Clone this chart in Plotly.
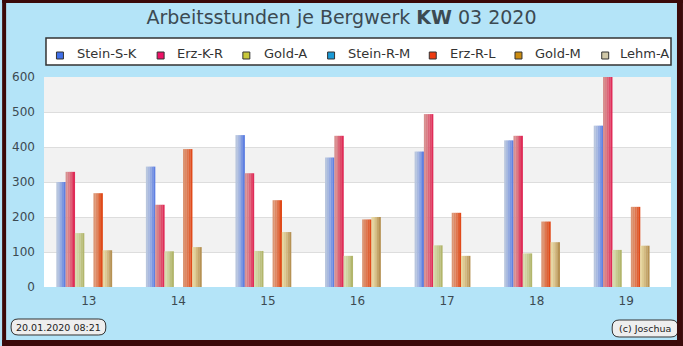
import plotly.graph_objects as go

# ---------------- data ----------------
categories = ["13", "14", "15", "16", "17", "18", "19"]
series_names = ["Stein-S-K", "Erz-K-R", "Gold-A", "Stein-R-M", "Erz-R-L", "Gold-M", "Lehm-A"]
stein_s_k = [300, 344, 434, 370, 387, 419, 461]
erz_k_r = [329, 235, 325, 432, 494, 432, 600]
gold_a = [154, 102, 103, 89, 119, 96, 106]
stein_r_m = [0, 0, 0, 0, 0, 0, 0]
erz_r_l = [268, 394, 248, 193, 212, 187, 229]
gold_m = [105, 114, 157, 200, 89, 128, 118]
lehm_a = [0, 0, 0, 0, 0, 0, 0]
series_values = [stein_s_k, erz_k_r, gold_a, stein_r_m, erz_r_l, gold_m, lehm_a]
y_ticks = [0, 100, 200, 300, 400, 500, 600]

title_text = "Arbeitsstunden je Bergwerk <b>KW</b> 03 2020"
stamp_text = "20.01.2020 08:21"
copyright_text = "(c) Joschua"

# ---------------- styles ----------------
legend_colors = ["#3f6fe8", "#ee1166", "#c8c83a", "#1a9ad6", "#ee3a10", "#cc8c10", "#d0c8a8"]
bar_light = ["#b8c6de", "#d89090", "#d6daac", "#a8d0e8", "#dc9674", "#e6d6a0", "#e2dece"]
bar_dark = ["#5f80e2", "#e02c58", "#b2b66c", "#2898d8", "#e04a1a", "#b69254", "#c0b898"]

W_PX, H_PX = 683, 346
ML, MR, MT, MB = 42, 12, 77, 59
PW = W_PX - ML - MR
PH = H_PX - MT - MB


def px(x):
    return (x - ML) / PW


def py(y):
    return (H_PX - MB - y) / PH


def hex2rgb(h):
    h = h.lstrip("#")
    return tuple(int(h[i:i + 2], 16) for i in (0, 2, 4))


def lerp_color(a, b, t):
    ca, cb = hex2rgb(a), hex2rgb(b)
    return "rgb(%d,%d,%d)" % tuple(round(ca[i] + (cb[i] - ca[i]) * t) for i in range(3))


fig = go.Figure()

n_series = len(series_names)
group_width = 0.725
slot = group_width / n_series
N_STRIPS = 5
for i, (name, vals) in enumerate(zip(series_names, series_values)):
    slot_left = -group_width / 2 + i * slot
    for k in range(N_STRIPS):
        t = (k / (N_STRIPS - 1)) ** 1.3
        fig.add_trace(go.Bar(
            x=categories, y=vals, name=name,
            legendgroup=name, showlegend=False,
            width=slot / N_STRIPS + 0.002,
            offset=slot_left + k * slot / N_STRIPS,
            marker=dict(color=lerp_color(bar_light[i], bar_dark[i], t), line=dict(width=0)),
            hovertemplate=name + " KW %{x}: %{y}<extra></extra>",
        ))

shapes = []
# alternating bands in plot area
for lo in (100, 300, 500):
    shapes.append(dict(type="rect", xref="paper", yref="y", x0=0, x1=1, y0=lo, y1=lo + 100,
                       fillcolor="#f2f2f2", line=dict(width=0), layer="below"))

# legend box
shapes.append(dict(type="rect", xref="paper", yref="paper",
                   x0=px(44), x1=px(671), y0=py(65), y1=py(38),
                   fillcolor="white", line=dict(color="#333333", width=1.5)))

legend_sq_x = [58, 159, 245, 330, 432, 518, 605]
legend_txt_x = [73, 173, 261, 345, 447, 533, 618]
annotations = []
for i, name in enumerate(series_names):
    cx, cy = legend_sq_x[i], 55.5
    shapes.append(dict(type="rect", xref="paper", yref="paper",
                       x0=px(cx - 3.5), x1=px(cx + 3.5), y0=py(cy + 3.5), y1=py(cy - 3.5),
                       fillcolor=legend_colors[i], line=dict(color="#333333", width=1)))
    annotations.append(dict(text=name, xref="paper", yref="paper", x=px(legend_txt_x[i]), y=py(54),
                            xanchor="left", yanchor="middle", showarrow=False,
                            font=dict(family="DejaVu Sans", size=13, color="#333333")))


def pill(x0, y0, x1, y1, r):
    pts = []
    P = lambda x, y: "%f,%f" % (px(x), py(y))
    d = "M " + P(x0 + r, y0)
    d += " L " + P(x1 - r, y0)
    d += " Q " + P(x1, y0) + " " + P(x1, y0 + r)
    d += " L " + P(x1, y1 - r)
    d += " Q " + P(x1, y1) + " " + P(x1 - r, y1)
    d += " L " + P(x0 + r, y1)
    d += " Q " + P(x0, y1) + " " + P(x0, y1 - r)
    d += " L " + P(x0, y0 + r)
    d += " Q " + P(x0, y0) + " " + P(x0 + r, y0) + " Z"
    return d


shapes.append(dict(type="path", xref="paper", yref="paper", path=pill(9, 319, 104, 335, 7),
                   fillcolor="#eeeeee", line=dict(color="#333333", width=1)))
shapes.append(dict(type="path", xref="paper", yref="paper", path=pill(612, 320, 678, 337, 7),
                   fillcolor="#eeeeee", line=dict(color="#333333", width=1)))
annotations.append(dict(text=stamp_text, xref="paper", yref="paper", x=px(56.5), y=py(327.5),
                        xanchor="center", yanchor="middle", showarrow=False,
                        font=dict(family="DejaVu Sans", size=9.5, color="#222222")))
annotations.append(dict(text=copyright_text, xref="paper", yref="paper", x=px(645), y=py(328.5),
                        xanchor="center", yanchor="middle", showarrow=False,
                        font=dict(family="DejaVu Sans", size=9.5, color="#222222")))

# dark frame
frame = "#3b0a0a"
for (x0, y0, x1, y1) in [(0, 0, 683, 3), (0, 340, 683, 346), (0, 0, 4, 346), (677, 0, 683, 346)]:
    shapes.append(dict(type="rect", xref="paper", yref="paper",
                       x0=px(x0), x1=px(x1), y0=py(y1), y1=py(y0),
                       fillcolor=frame, line=dict(width=0)))

fig.update_layout(
    width=W_PX, height=H_PX,
    margin=dict(l=ML, r=MR, t=MT, b=MB),
    paper_bgcolor="#b4e4f8",
    plot_bgcolor="white",
    barmode="overlay",
    showlegend=False,
    title=dict(text=title_text, x=0.5, xanchor="center", xref="container",
               y=1 - 17 / H_PX, yanchor="middle", yref="container",
               font=dict(family="DejaVu Sans", size=19, color="#3c4a52")),
    font=dict(family="DejaVu Sans", size=12, color="#444444"),
    shapes=shapes,
    annotations=annotations,
    xaxis=dict(type="category", range=[-0.5, 6.5], showgrid=False, zeroline=False,
               showline=False, ticks="", ticklabelstandoff=5,
               tickfont=dict(family="DejaVu Sans", size=12, color="#3c4a52")),
    yaxis=dict(range=[0, 600], tickvals=y_ticks, showgrid=True, gridcolor="#dddddd",
               gridwidth=1, zeroline=False, showline=False, ticks="", ticklabelstandoff=8,
               tickfont=dict(family="DejaVu Sans", size=12, color="#3c4a52")),
)

fig.write_html("out.html")
